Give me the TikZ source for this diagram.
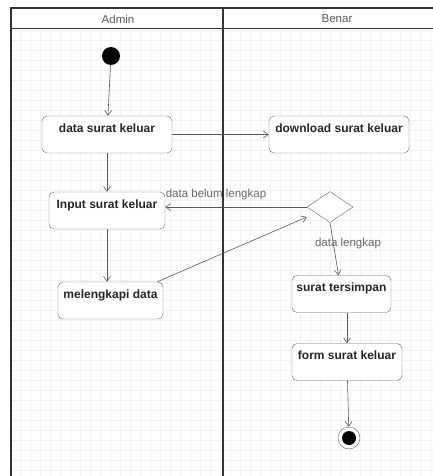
\documentclass[tikz,border=0pt]{standalone}
\usepackage{fontspec}
\setmainfont{Liberation Sans}
\usetikzlibrary{arrows.meta,shapes.geometric}

\tikzset{
    aksi/.style={draw=black!60,fill=white,rounded corners=5pt,font=\fontsize{12}{14}\selectfont\bfseries,
        text=black!85,inner xsep=2pt,inner ysep=4pt,text height=12pt,text depth=17pt},
    alur/.style={draw=black!65,semithick,-{Straight Barb[length=5pt,width=7pt]}},
    ket/.style={font=\fontsize{11.5}{13}\selectfont,text=black!60,inner sep=1pt},
    lajur/.style={draw=black!80,line width=1.6pt}
}

\begin{document}
\begin{tikzpicture}[x=1pt,y=-1pt]
        \useasboundingbox (0,0) rectangle (433,476);
        %latar grid
        \fill[white] (0,0) rectangle (433,476);
        \draw[black!5,very thin,step=10pt] (11,29) grid (433,476);
        %lajur
        \draw[lajur] (433,8) -- (11,8) -- (11,476);
        \draw[lajur] (223,8) -- (223,476);
        \draw[black!80,line width=1pt] (11,29) -- (433,29);
        \node[ket,text=black!65] (admin) at (118,19) {Admin};
        \node[ket,text=black!65] (benar) at (337,19) {Benar};
        %awal dan akhir
        \node[circle,fill=black,minimum size=18pt,inner sep=0] (awal) at (111,56) {};
        \node[circle,draw=black!60,fill=white,minimum size=22pt,inner sep=0] (akhir) at (349,438) {};
        \node[circle,fill=black,minimum size=14pt,inner sep=0] (akhirdot) at (349,438) {};
        %aktivitas
        \node[aksi,minimum width=130pt] (data) at (107,134.5) {data surat keluar};
        \node[aksi,minimum width=140pt] (unduh) at (339,134.5) {download surat keluar};
        \node[aksi,minimum width=116pt] (input) at (107,210.5) {Input surat keluar};
        \node[aksi,minimum width=105pt] (lengkapi) at (110.5,300.5) {melengkapi data};
        \node[diamond,draw=black!60,fill=white,inner sep=0,minimum width=46pt,minimum height=31pt] (cek) at (330,207) {};
        \node[aksi,minimum width=99pt] (simpan) at (341.5,294) {surat tersimpan};
        \node[aksi,minimum width=110pt] (form) at (347,362) {form surat keluar};
        %panah
        \draw[alur] (awal) -- (data);
        \draw[alur] (data) -- (unduh);
        \draw[alur] (data) -- (input);
        \draw[alur] (input.south) -- (input.south |- lengkapi.north);
        \draw[alur] (cek.west) -- (cek.west -| input.east);
        \draw[alur] ([xshift=-6pt]lengkapi.north east) -- ([yshift=-10pt]cek.west);
        \draw[alur] (cek.south) -- ([xshift=-3pt]simpan.north);
        \draw[alur] (form.north |- simpan.south) -- (form.north);
        \draw[alur] (form) -- (akhir);
        %label
        \node[ket] (belum) at (216,195) {data belum lengkap};
        \node[ket] (lengkap) at (348,244) {data lengkap};
    \end{tikzpicture}
\end{document}
